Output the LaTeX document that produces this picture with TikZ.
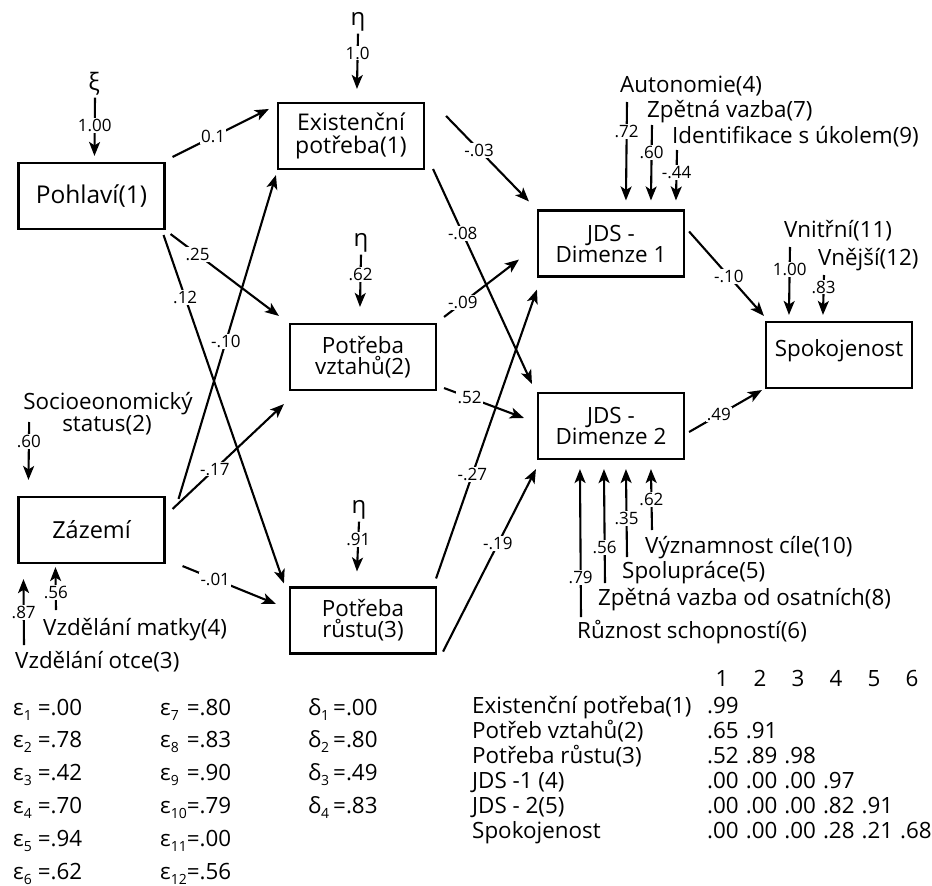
\documentclass[tikz,border=0pt]{standalone}
\usepackage{fontspec}
\setmainfont{Open Sans}
\usetikzlibrary{arrows.meta}
\newcommand\mainsz{\fontsize{22.4}{21}\selectfont}
\newcommand\labsz{\fontsize{17}{17}\selectfont}
\newcommand\sbs[1]{\raisebox{-5pt}{\fontsize{14}{14}\selectfont #1}}
\tikzset{
  box/.style={draw, line width=2.1pt, minimum width=146pt, minimum height=66pt, inner sep=0pt, align=center, font=\mainsz},
  arr/.style={-{Stealth[length=14pt,width=11pt,inset=3.5pt]}, line width=2.1pt},
  lab/.style={fill=white, inner sep=1.2pt, font=\labsz},
  txt/.style={inner sep=0pt, font=\mainsz, anchor=base west},
  greek/.style={inner sep=2pt, font=\fontsize{24}{24}\selectfont},
}
\begin{document}
\begin{tikzpicture}[x=1pt,y=-1pt]
\useasboundingbox (0,0) rectangle (932,886);
\fill[white] (0,0) rectangle (932,886);

% boxes
\node[box, font=\fontsize{24.5}{24}\selectfont] (pohl) at (91.5,196) {Pohlaví(1)};
\node[box, font=\fontsize{23.5}{24}\selectfont] (zaz) at (91.5,530) {Zázemí};
\node[box, font=\fontsize{23}{23}\selectfont] (exist) at (351,136) {Existenční\\potřeba(1)};
\node[box] (vztah) at (363,357) {Potřeba\\vztahů(2)};
\node[box] (rust) at (363,620.5) {Potřeba\\růstu(3)};
\node[box] (jds1) at (611,243.5) {JDS -\\Dimenze 1};
\node[box] (jds2) at (611,426) {JDS -\\Dimenze 2};
\node[box, text depth=14pt] (spok) at (839,355) {Spokojenost};

% structural paths
\draw[arr] ([shift={(7,-5)}]pohl.north east) -- ([shift={(-8,7)}]exist.north west) node[lab,pos=0.42] (l1) {0.1};
\draw[arr] ([shift={(5,4)}]pohl.south east) -- ([shift={(-10,-7)}]vztah.north west) node[lab,pos=0.25] (l2) {.25};
\draw[arr] ([shift={(-2,5)}]pohl.south east) -- ([shift={(-5,-3)}]rust.north west) node[lab,pos=0.18] (l3) {.12};
\draw[arr] ([shift={(13,3)}]zaz.north east) -- ([shift={(-1,5)}]exist.south west) node[lab,pos=0.485] (l4) {-.10};
\draw[arr] ([shift={(7,13)}]zaz.north east) -- ([shift={(-5,13)}]vztah.south west) node[lab,pos=0.38] (l5) {-.17};
\draw[arr] ([shift={(17,2)}]zaz.south east) -- ([shift={(-13,-16.5)}]rust.west) node[lab,pos=0.35] (l6) {-.01};
\draw[arr] ([shift={(21,14)}]exist.north east) -- ([shift={(-8,-8)}]jds1.north west) node[lab,pos=0.4] (l7) {-.03};
\draw[arr] ([shift={(8,-1)}]exist.south east) -- ([shift={(-5,-8)}]jds2.north west) node[lab,pos=0.3] (l8) {-.08};
\draw[arr] ([shift={(7,-6)}]vztah.north east) -- ([shift={(-18,-18)}]jds1.south west) node[lab,pos=0.25] (l9) {-.09};
\draw[arr] ([shift={(7,-3)}]vztah.south east) -- ([shift={(-13,-8)}]jds2.west) node[lab,pos=0.32] (l10) {.52};
\draw[arr] ([shift={(-1,-8)}]rust.north east) -- ([shift={(0,12)}]jds1.south west) node[lab,pos=0.36] (l11) {-.27};
\draw[arr] ([shift={(6,-3)}]rust.south east) -- ([shift={(-1,9)}]jds2.south west) node[lab,pos=0.59] (l12) {-.19};
\draw[arr] ([shift={(4,22)}]jds1.north east) -- ([shift={(-1,-5)}]spok.north west) node[lab,pos=0.53] (l13) {-.10};
\draw[arr] ([shift={(4,6)}]jds2.east) -- ([shift={(-3,1)}]spok.south west) node[lab,pos=0.41] (l14) {.49};

% error terms
\node[greek] (xi) at (94,84) {ξ};
\node[greek] (eta1) at (358,22) {η};
\node[greek] (eta2) at (361,243) {η};
\node[greek] (eta3) at (359,510) {η};
\draw[arr] (xi.south -| 95,0) -- ([shift={(77,-6)}]pohl.north west) node[lab,pos=0.47] (lxi) {1.00};
\draw[arr] (eta1.south) -- ([shift={(80,-13)}]exist.north west) node[lab,pos=0.35] (le1) {1.0};
\draw[arr] (eta2.south) -- ([shift={(71,-16)}]vztah.north west) node[lab,pos=0.38] (le2) {.62};
\draw[arr] (eta3.south) -- ([shift={(68,-15)}]rust.north west) node[lab,pos=0.35] (le3) {.91};

% Zazemi indicators
\node[txt, anchor=base] (soc1) at (108,409) {Socioeonomický};
\node[txt, anchor=base] (soc2) at (107,431) {status(2)};
\node[txt] (matky) at (43,635) {Vzdělání matky(4)};
\node[txt] (otce) at (15,668) {Vzdělání otce(3)};
\draw[arr] ([shift={(6,13)}]soc1.base west) -- ([shift={(11,-16)}]zaz.north west) node[lab,pos=0.34] (lsoc) {.60};
\draw[arr] ([shift={(9,-23)}]otce.base west) -- ([shift={(6,15)}]zaz.south west) node[lab,pos=0.5] (lotce) {.87};
\draw[arr] ([shift={(13,-25)}]matky.base west) -- ([shift={(38,3)}]zaz.south west) node[lab,pos=0.4] (lmat) {.56};

% JDS1 indicators
\node[txt] (auto) at (620,92) {Autonomie(4)};
\node[txt] (zpv) at (647,117) {Zpětná vazba(7)};
\node[txt] (ident) at (672,143) {Identifikace s úkolem(9)};
\draw[arr] ([shift={(7,10)}]auto.base west) -- ([shift={(89,-9)}]jds1.north west) node[lab,pos=0.3] (la) {.72};
\draw[arr] ([shift={(5,8)}]zpv.base west) -- ([shift={(114,-9)}]jds1.north west) node[lab,pos=0.36] (lz) {.60};
\draw[arr] ([shift={(5,7)}]ident.base west) -- ([shift={(139,-9)}]jds1.north west) node[lab,pos=0.44] (li) {-.44};

% Spokojenost indicators
\node[txt] (vni) at (784,237) {Vnitřní(11)};
\node[txt] (vne) at (818,265) {Vnější(12)};
\draw[arr] ([shift={(6,10)}]vni.base west) -- ([shift={(24,-6)}]spok.north west) node[lab,pos=0.33] (lvni) {1.00};
\draw[arr] ([shift={(6,10)}]vne.base west) -- ([shift={(58,-6)}]spok.north west) node[lab,pos=0.3] (lvne) {.83};

% JDS2 indicators
\node[txt] (vyz) at (645,553) {Významnost cíle(10)};
\node[txt] (spol) at (622,578) {Spolupráce(5)};
\node[txt] (zpo) at (598,605) {Zpětná vazba od osatních(8)};
\node[txt] (ruz) at (577,638) {Různost schopností(6)};
\draw[arr] ([shift={(4,-21)}]ruz.base west) -- ([shift={(43,9)}]jds2.south west) node[lab,pos=0.27] (lruz) {.79};
\draw[arr] ([shift={(7,-22)}]zpo.base west) -- ([shift={(67,9)}]jds2.south west) node[lab,pos=0.31] (lzpo) {.56};
\draw[arr] ([shift={(5,-21)}]spol.base west) -- ([shift={(89,9)}]jds2.south west) node[lab,pos=0.44] (lspol) {.35};
\draw[arr] ([shift={(7,-23)}]vyz.base west) -- ([shift={(114,9)}]jds2.south west) node[lab,pos=0.5] (lvyz) {.62};

% error variances
\foreach \s/\v [count=\i] in {1/.00,2/.78,3/.42,4/.70,5/.94,6/.62}{
  \node[txt] (ea\i) at (13,{715+32.8*(\i-1)}) {ε\makebox[14pt][l]{\sbs{\s}}=\v};
}
\foreach \s/\v [count=\i] in {7/.80,8/.83,9/.90,10/.79,11/.00,12/.56}{
  \node[txt] (eb\i) at (160,{715+32.8*(\i-1)}) {ε\makebox[16pt][l]{\sbs{\s}}=\v};
}
\foreach \s/\v [count=\i] in {1/.00,2/.80,3/.49,4/.83}{
  \node[txt] (dl\i) at (308,{715+32.8*(\i-1)}) {δ\makebox[12pt][l]{\sbs{\s}}=\v};
}

% correlation matrix
\foreach \j in {1,...,6}{
  \node[txt, anchor=base] (h\j) at ({722+38*(\j-1)},686) {\j};
}
\foreach \t [count=\i] in {Existenční potřeba(1),Potřeb vztahů(2),Potřeba růstu(3),JDS -1 (4),JDS - 2(5),Spokojenost}{
  \node[txt] (r\i) at (472,{713+25*(\i-1)}) {\t};
}
\foreach \r/\row in {1/{.99},2/{.65,.91},3/{.52,.89,.98},4/{.00,.00,.00,.97},5/{.00,.00,.00,.82,.91},6/{.00,.00,.00,.28,.21,.68}}{
  \foreach \v [count=\j] in \row {
    \node[txt] (m\r\j) at ({707+38.6*(\j-1)},{713+25*(\r-1)}) {\v};
  }
}
\end{tikzpicture}
\end{document}
